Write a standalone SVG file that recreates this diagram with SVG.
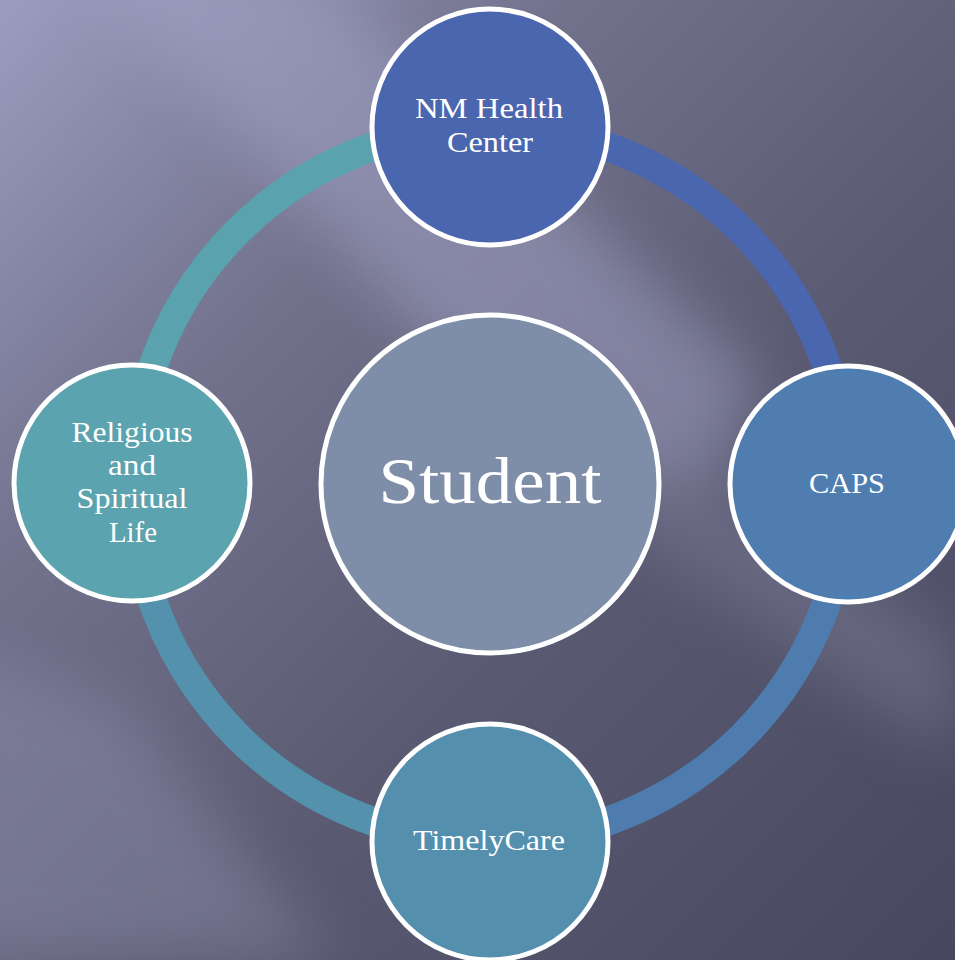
<svg xmlns="http://www.w3.org/2000/svg" width="955" height="960" viewBox="0 0 955 960">
  <defs>
    <linearGradient id="bg" x1="0" y1="0" x2="1" y2="1">
      <stop offset="0" stop-color="#9b9dbf"/>
      <stop offset="0.3" stop-color="#72728d"/>
      <stop offset="0.6" stop-color="#5a5a72"/>
      <stop offset="1" stop-color="#47485f"/>
    </linearGradient>
    <filter id="blur" x="-20%" y="-20%" width="140%" height="140%">
      <feGaussianBlur stdDeviation="30"/>
    </filter>
    <style>
      .node circle { stroke: #ffffff; stroke-width: 5; }
      .lbl { font-family: "Liberation Serif", "DejaVu Serif", serif; font-size: 29px; fill: #ffffff; text-anchor: middle; }
      .big { font-size: 65px; }
      .arc { fill: none; stroke-width: 29; }
    </style>
  </defs>

  <rect width="955" height="960" fill="url(#bg)"/>
  <g filter="url(#blur)" opacity="0.5">
    <polygon points="80,-40 300,-40 760,380 700,520 500,420" fill="#a3a4c6"/>
    <polygon points="-60,650 120,700 330,960 -60,960" fill="#8788a6"/>
    <polygon points="560,480 700,470 955,640 955,760" fill="#7a7a95"/>
  </g>

  <g id="connectors">
    <path class="arc" stroke="#5aa3ae" d="M133,484 A357,357 0 0 1 490,127"/>
    <path class="arc" stroke="#4a66ae" d="M490,127 A357,357 0 0 1 847,484"/>
    <path class="arc" stroke="#4f7cae" d="M847,484 A357,357 0 0 1 490,841"/>
    <path class="arc" stroke="#5491ad" d="M490,841 A357,357 0 0 1 133,484"/>
  </g>

  <g id="student" class="node">
    <circle cx="490" cy="484" r="169" fill="#7f8ea8"/>
    <text class="lbl big" x="490" y="503" textLength="223" lengthAdjust="spacingAndGlyphs">Student</text>
  </g>

  <g id="nm-health" class="node">
    <circle cx="490" cy="127" r="118" fill="#4a66ae"/>
    <text class="lbl" x="489" y="118" textLength="148" lengthAdjust="spacingAndGlyphs">NM Health</text>
    <text class="lbl" x="490" y="152" textLength="86" lengthAdjust="spacingAndGlyphs">Center</text>
  </g>

  <g id="caps" class="node">
    <circle cx="848" cy="484" r="118" fill="#4f7db0"/>
    <text class="lbl" x="847" y="493" textLength="76" lengthAdjust="spacingAndGlyphs">CAPS</text>
  </g>

  <g id="timelycare" class="node">
    <circle cx="490" cy="842" r="118" fill="#548fad"/>
    <text class="lbl" x="489" y="850" textLength="152" lengthAdjust="spacingAndGlyphs">TimelyCare</text>
  </g>

  <g id="religious" class="node">
    <circle cx="132" cy="483" r="118" fill="#5ba3ae"/>
    <text class="lbl" x="132" y="442" textLength="121" lengthAdjust="spacingAndGlyphs">Religious</text>
    <text class="lbl" x="132" y="475" textLength="48" lengthAdjust="spacingAndGlyphs">and</text>
    <text class="lbl" x="132" y="508" textLength="111" lengthAdjust="spacingAndGlyphs">Spiritual</text>
    <text class="lbl" x="133" y="542" textLength="48" lengthAdjust="spacingAndGlyphs">Life</text>
  </g>
</svg>
